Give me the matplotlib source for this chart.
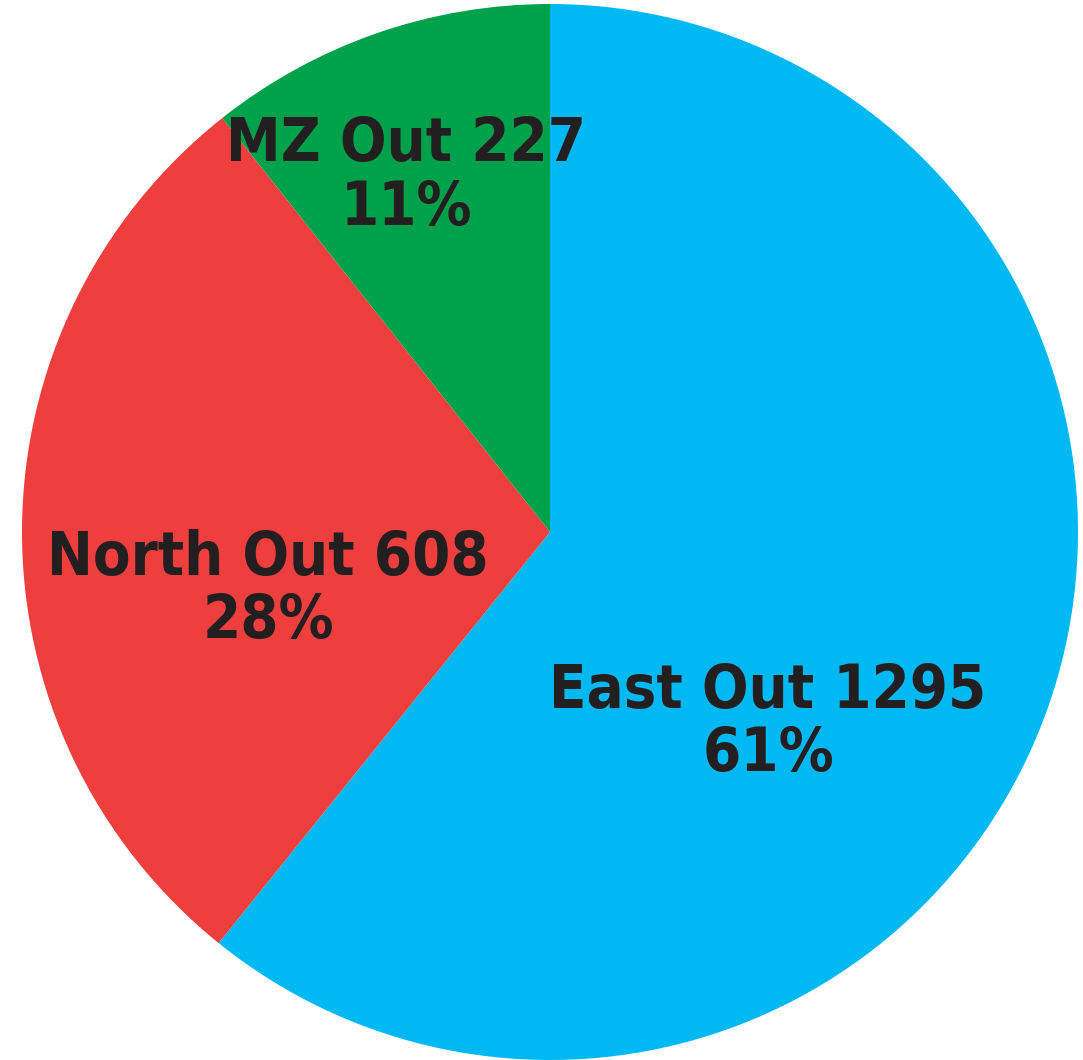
import matplotlib
matplotlib.use("Agg")
import matplotlib.pyplot as plt

names = ["East Out", "North Out", "MZ Out"]
counts = [1295, 608, 227]
pct_labels = ["61%", "28%", "11%"]
colors = ["#00B9F2", "#EF3E3E", "#00A14B"]
# label centres in radius units
label_xy = [(0.413, -0.362), (-0.534, -0.11), (-0.272, 0.673)]

fig = plt.figure(figsize=(10.83, 10.60), dpi=100)
ax = fig.add_axes([22 / 1083, 0.0, 1056 / 1083, 1056 / 1060])
ax.pie(counts, colors=colors, startangle=90, counterclock=False,
       wedgeprops=dict(linewidth=0))
for n, c, p, (x, y) in zip(names, counts, pct_labels, label_xy):
    ax.text(x, y, f"{n} {c}\n{p}", ha="center", va="center",
            fontsize=44, fontweight="bold", fontstretch="condensed",
            color="#231F20", linespacing=1.1, fontfamily="DejaVu Sans")
ax.set_xlim(-1, 1)
ax.set_ylim(-1, 1)
ax.set_aspect("equal")
ax.axis("off")
fig.savefig("out.png", dpi=100)
